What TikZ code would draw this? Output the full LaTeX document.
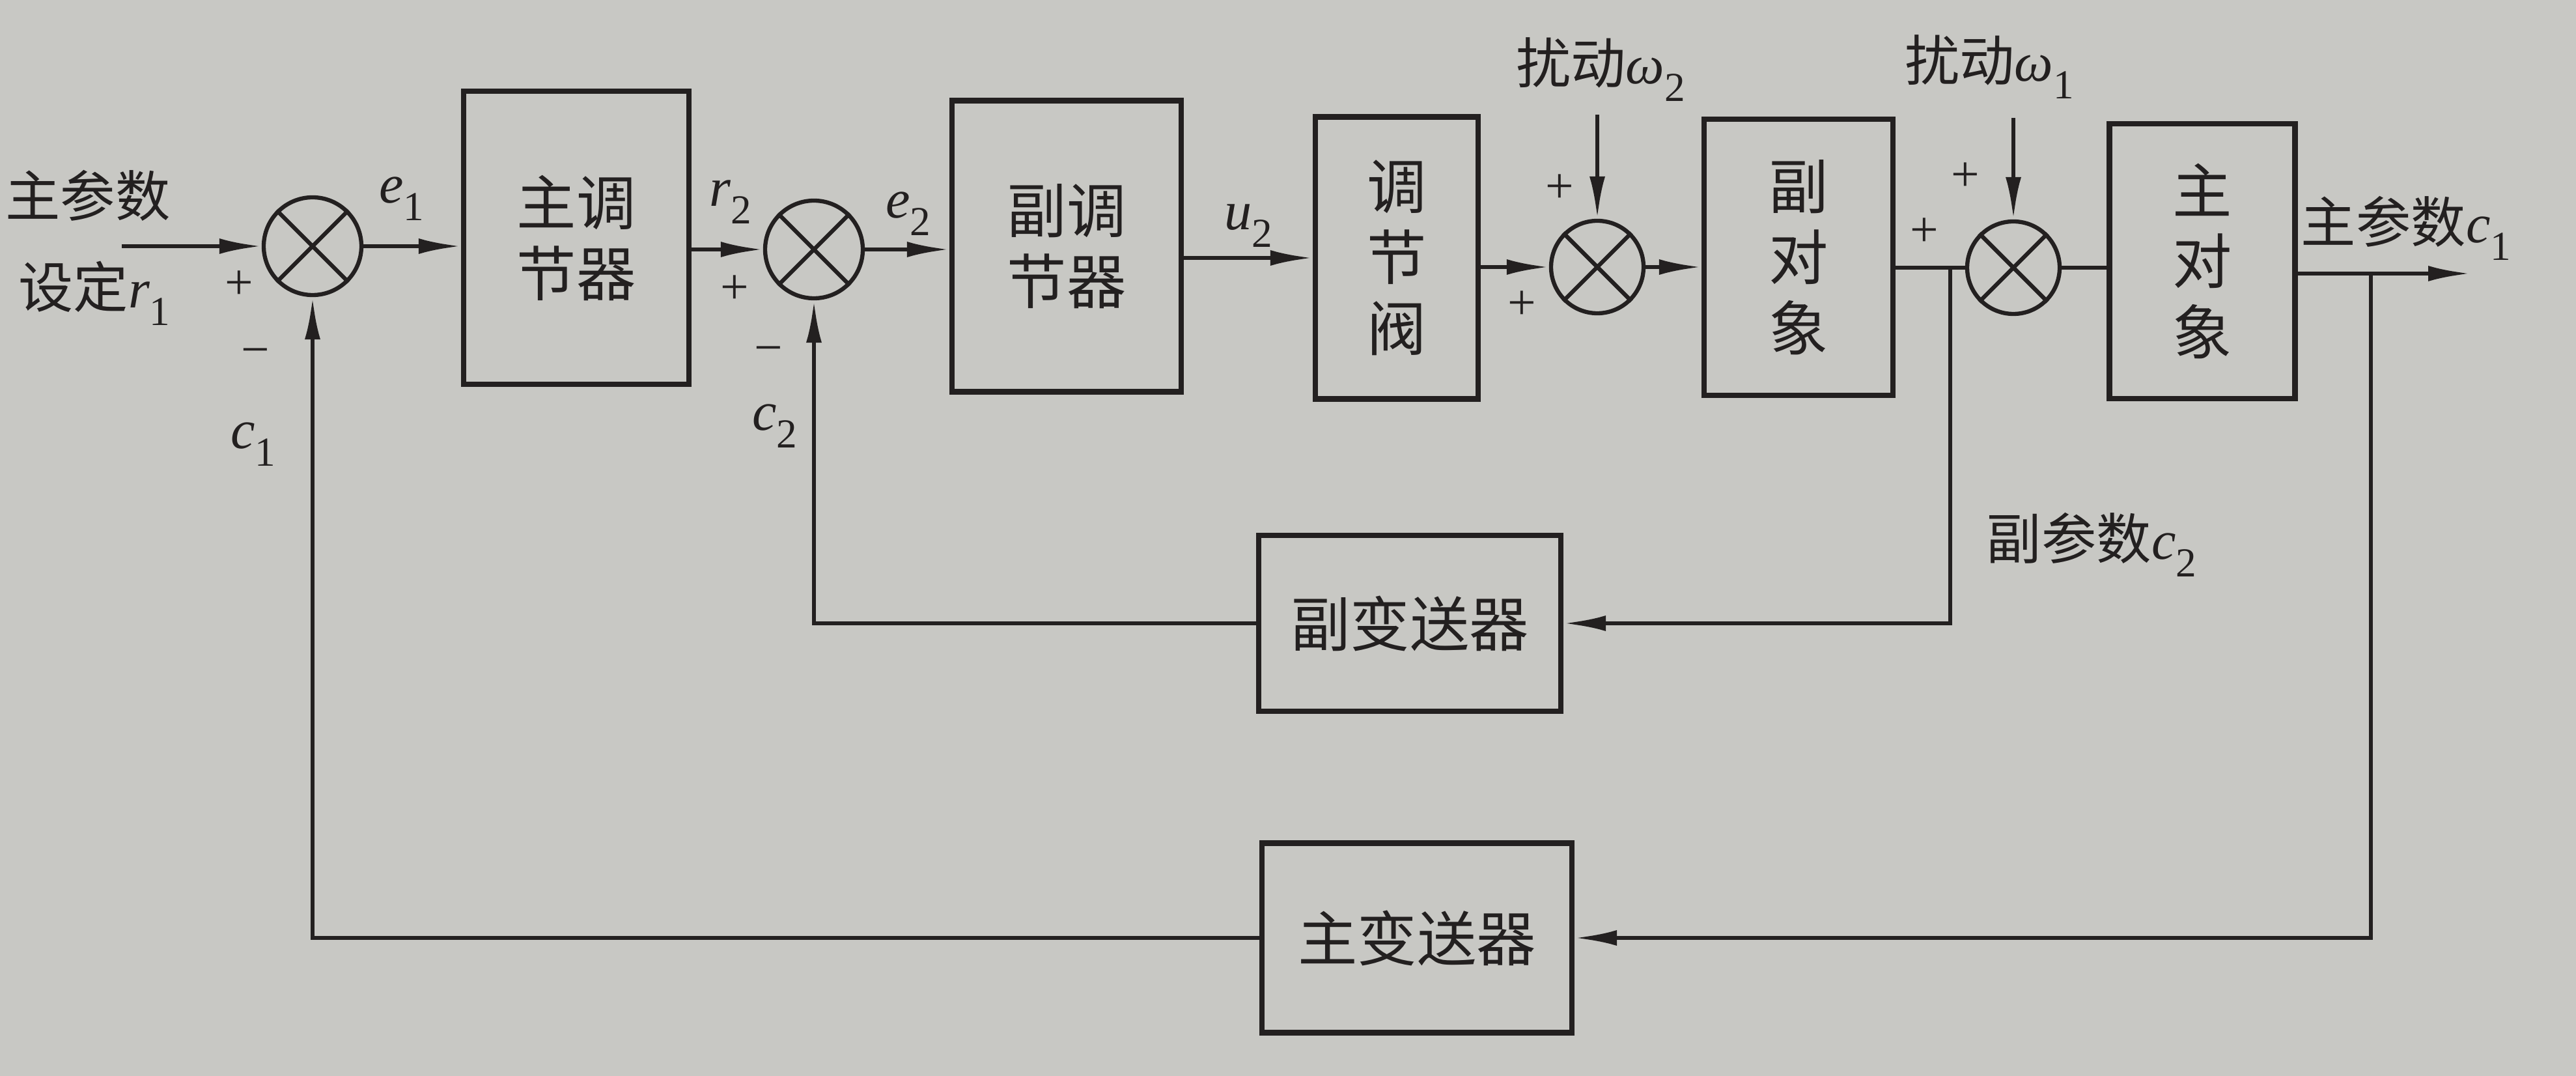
\documentclass[tikz,border=0pt]{standalone}
\usepackage{fontspec}
\newfontfamily\cjk{Noto Sans CJK SC}
\newfontfamily\tms{Liberation Serif}
\usetikzlibrary{arrows.meta}
\definecolor{paper}{RGB}{200,200,196}
\definecolor{ink}{RGB}{35,32,32}
\newcommand\var[2]{{\tms\itshape #1}\raisebox{-0.32em}{\tms\fontsize{18}{20}\selectfont #2}}
\tikzset{
  blk/.style={draw=ink, line width=2.3pt, align=center, inner sep=0pt, text=ink,
              font=\cjk\fontsize{26}{31}\selectfont},
  sumj/.style={draw=ink, circle, line width=1.8pt, minimum size=1.5cm, inner sep=0pt},
  wire/.style={draw=ink, line width=1.8pt},
  arr/.style={wire, -{Latex[length=6.5mm,width=2.4mm]}},
  lbl/.style={text=ink, inner sep=0pt, font=\cjk\fontsize{24}{29}\selectfont},
  sgn/.style={text=ink, inner sep=0pt, font=\tms\fontsize{22}{26}\selectfont}
}
\begin{document}
\begin{tikzpicture}
\fill[paper] (0,0) rectangle (39.56,-16.52);
\useasboundingbox (0,0) rectangle (39.56,-16.52);

% junctions
\node[sumj] (j1) at (4.80,-3.78) {};
\node[sumj] (j2) at (12.50,-3.83) {};
\node[sumj, minimum size=1.42cm] (j3) at (24.53,-4.10) {};
\node[sumj, minimum size=1.42cm] (j4) at (30.92,-4.11) {};
\foreach \j in {j1,j2,j3,j4}{
  \draw[wire] (\j.north west) -- (\j.south east) (\j.north east) -- (\j.south west);
}

% blocks
\node[blk, minimum width=3.46cm, minimum height=4.50cm] (mc) at (8.85,-3.65) {主调\\节器};
\node[blk, minimum width=3.52cm, minimum height=4.47cm] (sc) at (16.38,-3.78) {副调\\节器};
\node[blk, minimum width=2.50cm, minimum height=4.33cm] (valve) at (21.45,-3.96) {调\\节\\阀};
\node[blk, minimum width=2.90cm, minimum height=4.24cm] (so) at (27.62,-3.95) {副\\对\\象};
\node[blk, minimum width=2.85cm, minimum height=4.22cm] (mo) at (33.82,-4.01) {主\\对\\象};
\node[blk, minimum width=4.64cm, minimum height=2.70cm] (st) at (21.65,-9.57) {副变送器};
\node[blk, minimum width=4.76cm, minimum height=2.91cm] (mt) at (21.76,-14.40) {主变送器};

% free ends and branch points
\coordinate (in) at (1.87,-3.78);
\coordinate (out) at (37.94,-4.20);
\coordinate (b2) at (29.95,-4.11);
\coordinate (b1) at (36.41,-4.20);
\coordinate (w2) at (24.53,-1.76);
\coordinate (w1) at (30.92,-1.81);

% forward path
\draw[arr] (in) -- (j1.west);
\draw[arr] (j1.east) -- (j1.east -| mc.west);
\draw[arr] (mc.east |- j2) -- (j2.west);
\draw[arr] (j2.east) -- (j2.east -| sc.west);
\draw[arr] (sc.east |- valve) -- (valve.west);
\draw[arr] (valve.east |- j3) -- (j3.west);
\draw[arr] (j3.east) -- (j3.east -| so.west);
\draw[wire] (so.east |- j4) -- (j4.west);
\draw[wire] (j4.east) -- (j4.east -| mo.west);
\draw[arr] (mo.east |- out) -- (out);
\draw[arr] (w2) -- (j3.north);
\draw[arr] (w1) -- (j4.north);

% feedback paths
\draw[arr] (b2) |- (st.east);
\draw[arr] (st.west) -| (j2.south);
\draw[arr] (b1) |- (mt.east);
\draw[arr] (mt.west) -| (j1.south);

% labels
\node[lbl] (tin1) at (1.35,-3.00) {主参数};
\node[lbl] (tin2) at (1.45,-4.50) {设定\var{r}{1}};
\node[lbl] (te1) at (6.17,-3.05) {\var{e}{1}};
\node[lbl] (tr2) at (11.22,-3.10) {\var{r}{2}};
\node[lbl] (te2) at (13.95,-3.28) {\var{e}{2}};
\node[lbl] (tu2) at (19.17,-3.47) {\var{u}{2}};
\node[lbl] (tw2) at (24.58,-1.07) {扰动\var{ω}{2}};
\node[lbl] (tw1) at (30.55,-1.03) {扰动\var{ω}{1}};
\node[lbl] (tc1o) at (36.95,-3.50) {主参数\var{c}{1}};
\node[lbl] (tc2o) at (32.12,-8.36) {副参数\var{c}{2}};
\node[lbl] (tc1) at (3.89,-6.82) {\var{c}{1}};
\node[lbl] (tc2) at (11.90,-6.54) {\var{c}{2}};

\node[sgn] (p1) at (3.67,-4.38) {+};
\node[sgn] (m1) at (3.92,-5.49) {−};
\node[sgn] (p2) at (11.28,-4.45) {+};
\node[sgn] (m2) at (11.80,-5.46) {−};
\node[sgn] (p3a) at (23.95,-2.90) {+};
\node[sgn] (p3b) at (23.37,-4.69) {+};
\node[sgn] (p4a) at (30.18,-2.72) {+};
\node[sgn] (p4b) at (29.55,-3.57) {+};
\end{tikzpicture}
\end{document}
